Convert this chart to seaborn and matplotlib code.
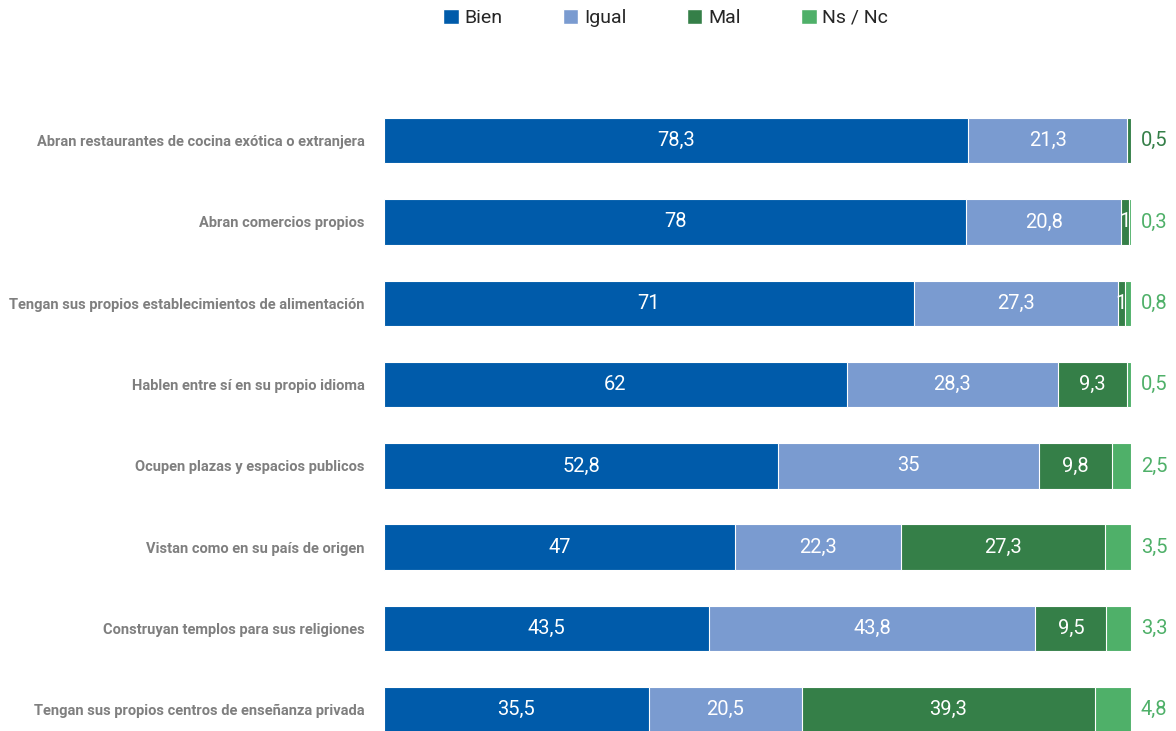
import matplotlib
matplotlib.use("Agg")
import matplotlib.pyplot as plt
from matplotlib.patches import Patch
import pandas as pd
import seaborn as sns

categories = [
    "Abran restaurantes de cocina exótica o extranjera",
    "Abran comercios propios",
    "Tengan sus propios establecimientos de alimentación",
    "Hablen entre sí en su propio idioma",
    "Ocupen plazas y espacios publicos",
    "Vistan como en su país de origen",
    "Construyan templos para sus religiones",
    "Tengan sus propios centros de enseñanza privada",
]
bien = [78.3, 78, 71, 62, 52.8, 47, 43.5, 35.5]
igual = [21.3, 20.8, 27.3, 28.3, 35, 22.3, 43.8, 20.5]
mal = [0.5, 1, 1, 9.3, 9.8, 27.3, 9.5, 39.3]
nsnc = [0, 0.3, 0.8, 0.5, 2.5, 3.5, 3.3, 4.8]

series_names = ["Bien", "Igual", "Mal", "Ns / Nc"]
colors = ["#005baa", "#7a9bd0", "#357f48", "#4fb069"]

sns.set_style("white")
plt.rcParams["font.family"] = ["Roboto", "DejaVu Sans"]

df = pd.DataFrame({"cat": categories, "Bien": bien, "Igual": igual, "Mal": mal, "Ns / Nc": nsnc})
cum = df[series_names].cumsum(axis=1)
starts = cum - df[series_names]

fig = plt.figure(figsize=(11.76, 7.31), dpi=100)
ax = fig.add_axes([384 / 1176, 0, (1131 - 384) / 1176, 1 - 100 / 731])

# stacked bars: draw cumulative totals from the longest down
for name, col in reversed(list(zip(series_names, colors))):
    sns.barplot(x=cum[name], y=df["cat"], color=col, orient="h", width=0.56,
                saturation=1, edgecolor="white", linewidth=0.8, ax=ax)

ax.set_xlim(0, 100.1)
ax.set_ylim(7.26, -0.5)
ax.set_xlabel("")
ax.set_ylabel("")
ax.set_xticks([])
sns.despine(ax=ax, left=True, bottom=True)
ax.tick_params(axis="y", length=0, pad=14)
for lbl in ax.get_yticklabels():
    lbl.set_fontsize(10.5)
    lbl.set_fontweight("bold")
    lbl.set_color("#7f7f7f")


def fmt(v):
    return f"{v:g}".replace(".", ",")


for i in range(len(categories)):
    for name in ["Bien", "Igual", "Mal"]:
        v = df.loc[i, name]
        x = starts.loc[i, name] + v / 2
        if name == "Mal" and v < 1:
            ax.text(103.2, i, fmt(v), ha="center", va="center", fontsize=14.5,
                    color=colors[2], clip_on=False)
        elif v > 0:
            ax.text(x, i, fmt(v), ha="center", va="center", fontsize=14.5, color="white")
    v = df.loc[i, "Ns / Nc"]
    if v > 0:
        ax.text(103.2, i, fmt(v), ha="center", va="center", fontsize=14.5,
                color=colors[3], clip_on=False)

handles = [Patch(facecolor=c, label=n) for n, c in zip(series_names, colors)]
fig.legend(handles=handles, loc="upper center", bbox_to_anchor=(0.566, 1.012), ncol=4,
           frameon=False, fontsize=14, handlelength=0.8, handleheight=0.8,
           handletextpad=0.3, columnspacing=3.1)

fig.savefig("out.png", dpi=100)
